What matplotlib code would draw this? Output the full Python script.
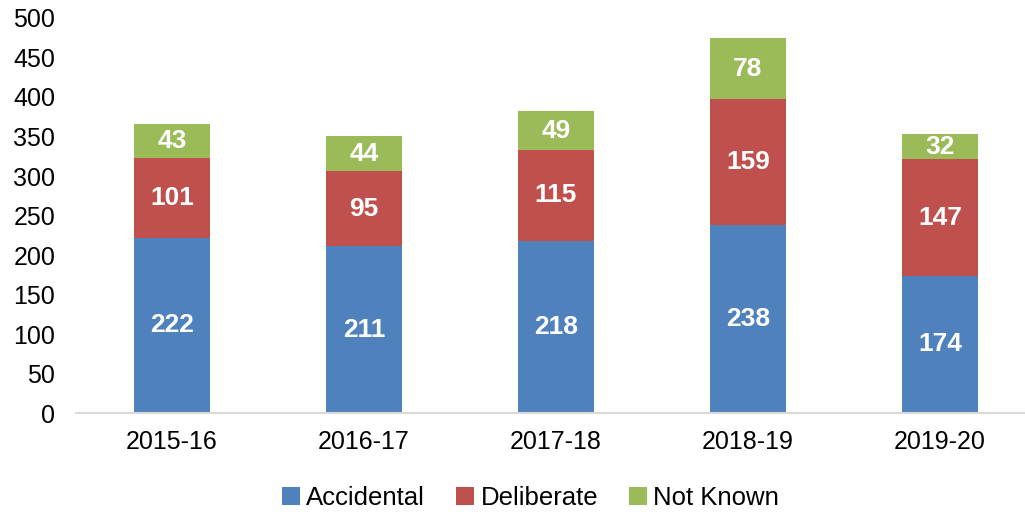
import matplotlib
matplotlib.use("Agg")
import matplotlib.pyplot as plt

plt.rcParams['font.family'] = ['Liberation Sans', 'DejaVu Sans']

years = ['2015-16', '2016-17', '2017-18', '2018-19', '2019-20']
accidental = [222, 211, 218, 238, 174]
deliberate = [101, 95, 115, 159, 147]
not_known = [43, 44, 49, 78, 32]

series = [('Accidental', accidental, '#4F81BD'),
          ('Deliberate', deliberate, '#C0504D'),
          ('Not Known', not_known, '#9BBB59')]

fig = plt.figure(figsize=(10.25, 5.12), dpi=100)
ax = fig.add_axes([0.0742, 0.193, 0.9258, 0.772])

x = list(range(len(years)))
bottom = [0] * len(years)
for name, vals, col in series:
    bars = ax.bar(x, vals, 0.4, bottom=bottom, color=col, label=name)
    ax.bar_label(bars, labels=[str(v) for v in vals], label_type='center',
                 color='white', fontsize=19, fontweight='bold')
    bottom = [b + v for b, v in zip(bottom, vals)]

ax.set_ylim(0, 500)
ax.set_yticks(range(0, 501, 50))
ax.set_xlim(-0.5, -0.5 + 949 / 192)
ax.set_xticks(x)
ax.set_xticklabels(years)
ax.tick_params(axis='both', labelsize=18, length=0)
ax.tick_params(axis='x', pad=12)
ax.tick_params(axis='y', pad=15)

for s in ['top', 'right', 'left']:
    ax.spines[s].set_visible(False)
ax.spines['bottom'].set_color('#D9D9D9')
ax.spines['bottom'].set_linewidth(1.5)

ax.legend(loc='center', bbox_to_anchor=(0.479, -0.215), ncol=3, frameon=False,
          fontsize=18.5, handlelength=0.7, handleheight=0.7, handletextpad=0.25,
          columnspacing=1.2)

fig.savefig('out.png', dpi=100)
